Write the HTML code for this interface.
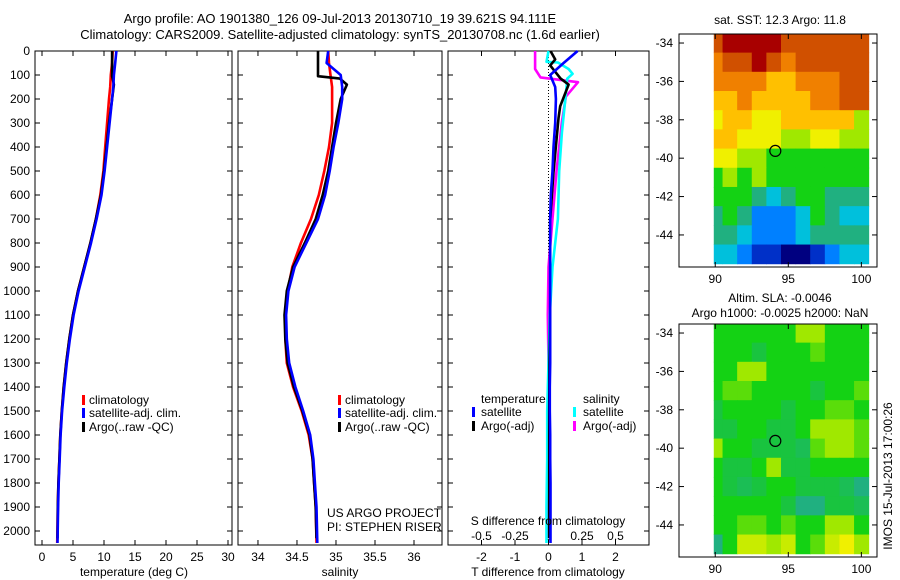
<!DOCTYPE html>
<html><head><meta charset="utf-8"><style>
body{margin:0;background:#fff}
svg{display:block;font-family:"Liberation Sans",sans-serif;font-size:12px}
</style></head><body>
<svg id="fig" width="900" height="580" xmlns="http://www.w3.org/2000/svg">
<text x="340" y="23" text-anchor="middle" font-size="13">Argo profile: AO 1901380_126 09-Jul-2013 20130710_19 39.621S 94.111E</text>
<text x="340" y="39" text-anchor="middle" font-size="13">Climatology: CARS2009. Satellite-adjusted climatology: synTS_20130708.nc (1.6d earlier)</text>
<g id="plots"></g>
</svg>
<script>
// ---- data ----
const depths=[0,50,100,150,200,300,400,500,600,700,800,900,1000,1100,1200,1300,1400,1500,1600,1700,1800,1900,2050];
const argoDepths=[0,105,115,140,200,300,400,500,600,700,800,900,1000,1100,1200,1300,1400,1500,1600,1700,1800,1900,2030];
const climT=[11.4,11.3,11.1,11.0,10.8,10.5,10.2,9.9,9.4,8.7,7.8,6.8,5.8,5.0,4.4,3.9,3.5,3.2,2.95,2.8,2.65,2.55,2.45];
const satT=[12.0,11.8,11.6,11.5,11.3,10.9,10.5,10.1,9.6,8.8,7.9,6.9,5.9,5.1,4.5,4.0,3.6,3.25,3.0,2.85,2.7,2.6,2.5];
const argoT=[11.3,11.3,11.4,11.6,11.3,10.8,10.4,10.0,9.5,8.7,7.8,6.8,5.8,5.0,4.4,3.9,3.5,3.2,2.95,2.8,2.65,2.55,2.5];
const climS=[34.90,34.91,34.93,34.95,34.95,34.95,34.91,34.85,34.78,34.68,34.55,34.44,34.38,34.35,34.35,34.37,34.45,34.56,34.65,34.70,34.72,34.74,34.75];
const satS=[34.90,34.88,35.06,35.08,35.08,35.03,34.97,34.92,34.86,34.77,34.62,34.47,34.39,34.36,34.37,34.40,34.48,34.58,34.67,34.71,34.73,34.75,34.76];
const argoS=[34.77,34.77,35.05,35.14,35.06,35.00,34.95,34.90,34.83,34.74,34.60,34.45,34.37,34.34,34.35,34.38,34.46,34.57,34.66,34.70,34.72,34.74,34.75];
const satTdiff=[0.87,0.45,0.05,0.2,0.22,0.2,0.15,0.12,0.07,0.05,0.05,0.05,0.05,0.05,0.05,0.05,0.04,0.04,0.05,0.05,0.06,0.06,0.06];
const argoTdDepths=[0,35,60,115,140,230,280,505,700,900,1100,1300,1500,1700,1900,2030];
const argoTdiff=[0.06,0.2,0.05,0.36,0.6,0.35,0.3,0.15,0.05,0.05,0.05,0.03,0.02,0.02,0.02,0.02];
const satSdDepths=[0,45,48,75,95,115,230,340,500,700,900,1100,1300,1500,1700,1900,2050];
const satSdiff=[0,-0.015,0.07,0.15,0.18,0.14,0.12,0.10,0.08,0.07,0.03,0.01,0,-0.01,-0.01,-0.015,-0.015];
const argoSdDepths=[0,75,110,130,190,295,500,700,900,1100,1300,1500,1700,1900,2030];
const argoSdiff=[-0.10,-0.10,-0.06,0.22,0.13,0.10,0.06,0.03,0.0,-0.005,0,0,0,0,0];
const depthTicks=[0,100,200,300,400,500,600,700,800,900,1000,1100,1200,1300,1400,1500,1600,1700,1800,1900,2000];
const tempTicks=[0,5,10,15,20,25,30];
const salTicks=[34,34.5,35,35.5,36];
const tdTicks=[-2,-1,0,1,2];
const sdTicks=[-0.5,-0.25,0,0.25,0.5];
const sdTickLabels=["-0.5","-0.25","0","0.25","0.5"];
// SST colour index grid: rows lat -34..-45, cols lon 90..100
const sstGrid=[
[10,11,11,11,11,10,10,10,10,10,10],
[9,10,10,11,10,9,10,10,10,10,10],
[9,9,9,9,8,8,9,9,9,10,10],
[8,8,9,8,8,8,8,9,9,10,10],
[7,8,8,7,7,8,8,8,8,8,6],
[8,8,7,7,7,6,6,7,7,6,6],
[7,7,6,6,5,5,5,5,5,5,5],
[5,6,5,6,5,5,5,5,5,5,5],
[5,5,5,4,3,4,5,5,4,4,4],
[4,5,4,2,2,2,3,5,4,3,3],
[4,4,3,2,2,2,3,4,4,4,4],
[3,3,2,1,1,0,0,1,2,3,3]];
const slaGrid=[
[5,5,5,5,5,5,6,6,5,5,5],
[5,5,5,4.6,5,5,5,5.5,5,5,5],
[5,5,6,6,5,5,5,5,5,5,5],
[5,5.5,5.5,5,5,5,5,4.6,5,5,5.5],
[4.6,5,5,5,5,4.6,5,5,5.5,5.5,5],
[4.6,4.6,5,5,4.6,4.6,5,6,6,6,5.5],
[6,5,5,4.6,4.6,4.6,4.4,5.5,6,6,5.5],
[5,4.6,4.6,5,6,4.6,4.6,5,5,5,5],
[5,4.6,4.4,4.6,5,5,4.6,4.6,4.6,4.4,4],
[5,5,5,5,5,4.6,4,4,4.6,4.6,4.4],
[5,5,5.5,5.5,5,5.5,5,5,6,6,5],
[4,5,6.5,6.5,6,6.5,5,5.5,6.5,7,6]];
const gridLons=[90,91,92,93,94,95,96,97,98,99,100];
const gridLats=[-34,-35,-36,-37,-38,-39,-40,-41,-42,-43,-44,-45];
const lonTicks=[90,95,100];
const latTicks=[-34,-36,-38,-40,-42,-44];
const argoLon=94.111, argoLat=-39.621;

const NS="http://www.w3.org/2000/svg";
const root=document.getElementById('plots');
function el(tag,attrs,parent,text){const e=document.createElementNS(NS,tag);for(const k in attrs)e.setAttribute(k,attrs[k]);if(text!==undefined)e.textContent=text;(parent||root).appendChild(e);return e;}
const PT=51,PB=545,DMAX=(545-51)/0.24;
const yD=d=>PT+d*0.24;
function lin(d0,d1,r0,r1){return v=>r0+(v-d0)/(d1-d0)*(r1-r0);}
const panels=[
 {x0:35,x1:232,sx:lin(-1.129,30.645,35,232)},
 {x0:238,x1:442,sx:lin(33.744,36.359,238,442)},
 {x0:448,x1:649,sx:lin(-3,3,448,649)}];
const sS3=lin(-0.75,0.75,448,649);

function line(ds,vs,sx,color,name){
  const p=ds.map((d,i)=>(i?'L':'M')+sx(vs[i]).toFixed(1)+' '+yD(d).toFixed(1)).join(' ');
  const e=el('path',{d:p,fill:'none',stroke:color,'stroke-width':2.6,'stroke-linejoin':'round'});
  
  
}
panels.forEach((P,i)=>{
  const b=el('rect',{x:P.x0,y:PT,width:P.x1-P.x0,height:PB-PT,fill:'#fff',stroke:'#000','stroke-width':1});
  
  
  depthTicks.forEach(d=>{
    const y=yD(d);
    el('line',{x1:P.x0,x2:P.x0+5,y1:y,y2:y,stroke:'#000'});
    el('line',{x1:P.x1,x2:P.x1-5,y1:y,y2:y,stroke:'#000'});
    if(i===0){const t=el('text',{x:30,y:y+4,'text-anchor':'end'},null,String(d));
      
      }
  });
});
// x ticks
function xticks(P,ticks,labels,sx,ly,name,top){
  ticks.forEach((v,j)=>{const x=sx(v);
    el('line',{x1:x,x2:x,y1:PB,y2:PB-5,stroke:'#000'});
    if(top)el('line',{x1:x,x2:x,y1:PT,y2:PT+5,stroke:'#000'});
    const t=el('text',{x:x,y:ly,'text-anchor':'middle'},null,labels[j]);
    
    });
}
xticks(panels[0],tempTicks,tempTicks.map(String),panels[0].sx,561,'temperature-tick-label',true);
xticks(panels[1],salTicks,salTicks.map(String),panels[1].sx,561,'salinity-tick-label',true);
xticks(panels[2],tdTicks,tdTicks.map(String),panels[2].sx,561,'t-diff-tick-label',true);
sdTicks.forEach((v,j)=>{const t=el('text',{x:sS3(v),y:540,'text-anchor':'middle'},null,sdTickLabels[j]);
  
  });
// zero line panel3
const zl=el('line',{x1:panels[2].sx(0),x2:panels[2].sx(0),y1:PT,y2:PB,stroke:'#000','stroke-dasharray':'1 2'});


// profiles
line(depths,climT,panels[0].sx,'#ff0000','temp-climatology-line');
line(argoDepths,argoT,panels[0].sx,'#000000','temp-argo-line');
line(depths,satT,panels[0].sx,'#0000ff','temp-satellite-line');
line(depths,climS,panels[1].sx,'#ff0000','sal-climatology-line');
line(argoDepths,argoS,panels[1].sx,'#000000','sal-argo-line');
line(depths,satS,panels[1].sx,'#0000ff','sal-satellite-line');
line(argoSdDepths,argoSdiff,sS3,'#ff00ff','sdiff-argo-line');
line(satSdDepths,satSdiff,sS3,'#00ffff','sdiff-satellite-line');
line(argoTdDepths,argoTdiff,panels[2].sx,'#000000','tdiff-argo-line');
line(depths,satTdiff,panels[2].sx,'#0000ff','tdiff-satellite-line');

function txt(x,y,s,name,anchor,extra){const t=el('text',Object.assign({x:x,y:y,'text-anchor':anchor||'start'},extra||{}),null,s);
  
  return t;}
function mark(x,y,c,name){const r=el('rect',{x:x,y:y-9,width:3,height:10,fill:c});
  
  }
// legends
[[82,'p1'],[338,'p2']].forEach(([lx,p])=>{
  mark(lx,404,'#ff0000',p+'-legend-clim-marker');txt(lx+7,404,'climatology',p+'-legend-climatology');
  mark(lx,417,'#0000ff',p+'-legend-sat-marker');txt(lx+7,417,'satellite-adj. clim.',p+'-legend-satellite');
  mark(lx,431,'#000000',p+'-legend-argo-marker');txt(lx+7,431,'Argo(..raw -QC)',p+'-legend-argo');
});
txt(481,403,'temperature','legend-temperature-heading');
mark(472,416,'#0000ff','legend-tsat-marker');txt(481,416,'satellite','legend-t-satellite');
mark(472,430,'#000000','legend-targo-marker');txt(481,430,'Argo(-adj)','legend-t-argo');
txt(583,403,'salinity','legend-salinity-heading');
mark(573,416,'#00ffff','legend-ssat-marker');txt(583,416,'satellite','legend-s-satellite');
mark(573,430,'#ff00ff','legend-sargo-marker');txt(583,430,'Argo(-adj)','legend-s-argo');
txt(548,525,'S difference from climatology','s-diff-axis-title','middle');
txt(548,576,'T difference from climatology','t-diff-axis-title','middle');
txt(134,576,'temperature (deg C)','temperature-axis-title','middle');
txt(340,576,'salinity','salinity-axis-title','middle');
txt(327,517,'US ARGO PROJECT','project-label');
txt(327,531,'PI: STEPHEN RISER','pi-label');

// colormap
const cstops=[[0,0,0,128],[1,0,48,200],[2,0,128,255],[3,0,192,220],[4,32,176,128],[5,20,210,20],[6,160,232,0],[7,240,240,0],[8,255,192,0],[9,240,128,0],[10,208,80,0],[11,168,0,0]];
function cmap(v){v=Math.max(0,Math.min(11,v));const i=Math.min(10,Math.floor(v));const f=v-i;const a=cstops[i],b=cstops[i+1];
  return 'rgb('+[1,2,3].map(k=>Math.round(a[k]+(b[k]-a[k])*f)).join(',')+')';}
function map(y0,grid,name,title){
  const X0=679,X1=877,Y0=y0,Y1=y0+233;
  const sx=lin(87.52,101.07,X0,X1), sy=lin(-33.53,-45.67,Y0,Y1);
  const g=el('g',{});
  
  
  el('rect',{x:X0,y:Y0,width:X1-X0,height:Y1-Y0,fill:'#fff'},g);
  gridLats.forEach((la,r)=>gridLons.forEach((lo,c)=>{
    const x0=Math.max(sx(lo-0.5),sx(89.9)),x1=Math.min(sx(lo+0.5),X1);
    const ya=Math.max(sy(la+0.5),Y0),yb=Math.min(sy(la-0.5),Y1);
    const cell=el('rect',{x:x0,y:ya,width:x1-x0+0.5,height:yb-ya+0.5,fill:cmap(grid[r][c])},g);
    
    
  }));
  el('rect',{x:X0,y:Y0,width:X1-X0,height:Y1-Y0,fill:'none',stroke:'#000'},g);
  lonTicks.forEach(v=>{const x=sx(v);el('line',{x1:x,x2:x,y1:Y1,y2:Y1-5,stroke:'#000'},g);el('line',{x1:x,x2:x,y1:Y0,y2:Y0+5,stroke:'#000'},g);
    const t=el('text',{x:x,y:Y1+16,'text-anchor':'middle'},g,String(v));
    
    });
  latTicks.forEach(v=>{const y=sy(v);el('line',{x1:X0,x2:X0+5,y1:y,y2:y,stroke:'#000'},g);el('line',{x1:X1,x2:X1-5,y1:y,y2:y,stroke:'#000'},g);
    const t=el('text',{x:673,y:y+4,'text-anchor':'end'},g,String(v));
    
    });
  const c=el('circle',{cx:sx(argoLon),cy:sy(argoLat),r:5.5,fill:'none',stroke:'#000','stroke-width':1.2},g);
  
  
}
map(34,sstGrid,'sst-map');
map(324,slaGrid,'sla-map');
txt(780,24,'sat. SST: 12.3 Argo: 11.8','sst-map-title','middle');
txt(780,302,'Altim. SLA: -0.0046','sla-map-title','middle');
txt(780,317,'Argo h1000: -0.0025 h2000: NaN','sla-map-subtitle','middle');
txt(0,0,'IMOS 15-Jul-2013 17:00:26','timestamp-label','middle',{transform:'translate(892,476) rotate(-90)'});
</script>
</body></html>
